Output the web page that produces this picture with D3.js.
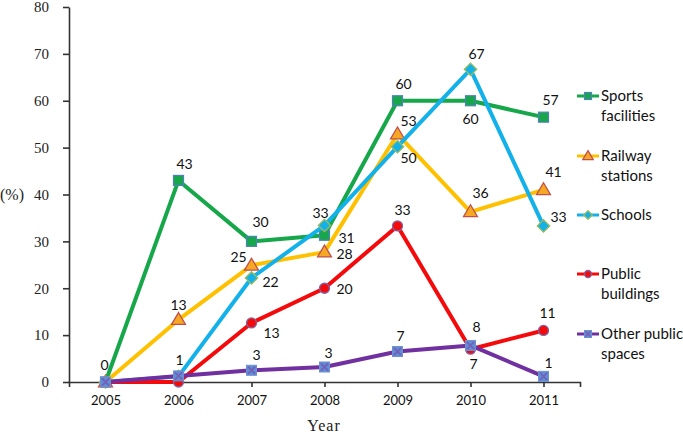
<!DOCTYPE html>
<html>
<head>
<meta charset="utf-8">
<script src="https://cdn.jsdelivr.net/npm/d3@7"></script>
<style>
  body { margin: 0; background: #fff; }
  svg { display: block; }
</style>
</head>
<body>
<script>
var years = ["2005", "2006", "2007", "2008", "2009", "2010", "2011"];
var yTicks = [0, 10, 20, 30, 40, 50, 60, 70, 80];

var seriesNames = ["Sports facilities", "Railway stations", "Schools", "Public buildings", "Other public spaces"];

var sports   = [0, 43, 30, 31.3, 60, 60, 56.5];
var railway  = [0, 13.3, 24.9, 27.7, 52.9, 36.3, 41];
var schools  = [0, 1.2, 22.2, 33.4, 50.2, 66.7, 33.3];
var publicB  = [0, 0, 12.6, 20, 33.3, 7, 11];
var other    = [0, 1.3, 2.5, 3.2, 6.5, 7.8, 1.2];

// printed labels (null = no label)
var sportsLabels  = [null, "43", "30", "31", "60", "60", "57"];
var railwayLabels = [null, "13", "25", "28", "53", "36", "41"];
var schoolsLabels = [null, null, "22", "33", "50", "67", "33"];
var publicLabels  = [null, null, "13", "20", "33", "7", "11"];
var otherLabels   = ["0", "1", "3", "3", "7", "8", "1"];

// label nudges relative to the marker [dx, dy]
var sportsNudge  = [[0,0],[6,-16],[9,-19],[22,3],[6,-17],[0,18],[7,-17]];
var railwayNudge = [[0,0],[0,-15],[-13,-8],[20,2],[11,-13],[10,-19],[10,-18]];
var schoolsNudge = [[0,0],[0,0],[19,4],[-4,-12],[11,11],[6,-15],[15,-9]];
var publicNudge  = [[0,0],[0,0],[20,10],[20,1],[5,-16],[3,15],[4,-17]];
var otherNudge   = [[-1,-17],[1,-16],[5,-15],[4,-14],[3,-15],[6,-18],[5,-13]];

var W = 683, H = 435;

var svg = d3.select("body").append("svg")
    .attr("width", W)
    .attr("height", H);

var x = d3.scalePoint()
    .domain(years)
    .range([69, 580])
    .padding(0.5);

var y = d3.scaleLinear()
    .domain([0, 80])
    .range([382, 7]);

var axisColor = "#333";

// y axis
var yAxis = svg.append("g")
    .attr("transform", "translate(69,0)")
    .call(d3.axisLeft(y).tickValues(yTicks).tickSize(6).tickSizeOuter(0).tickPadding(14));
yAxis.selectAll("path, line").attr("stroke", axisColor).attr("stroke-width", 1.6);
yAxis.selectAll("text")
    .attr("fill", "#222")
    .style("font-family", "'Liberation Serif', serif")
    .style("font-size", "15px");

// x axis
var xAxis = svg.append("g")
    .attr("transform", "translate(0,382)")
    .call(d3.axisBottom(x).tickSize(5).tickSizeOuter(5).tickPadding(9));
xAxis.selectAll("path, line").attr("stroke", axisColor).attr("stroke-width", 1.6);
xAxis.selectAll("text")
    .attr("fill", "#111")
    .style("font-family", "Lato, sans-serif")
    .style("font-size", "13px");

svg.append("text")
    .attr("x", 0)
    .attr("y", y(40))
    .attr("dy", "0.35em")
    .style("font-family", "'Liberation Serif', serif")
    .style("font-size", "16px")
    .attr("fill", "#222")
    .text("(%)");

svg.append("text")
    .attr("x", 324)
    .attr("y", 425)
    .attr("dy", "0.35em")
    .attr("text-anchor", "middle")
    .style("font-family", "'Liberation Serif', serif")
    .style("font-size", "16px")
    .style("letter-spacing", "1px")
    .attr("fill", "#222")
    .text("Year");

var series = [
  { name: seriesNames[0], values: sports,  labels: sportsLabels,  nudge: sportsNudge,
    line: "#16A74A", fill: "#16A74A", edge: "#4F81BD", shape: "square" },
  { name: seriesNames[1], values: railway, labels: railwayLabels, nudge: railwayNudge,
    line: "#FFC000", fill: "#F7A823", edge: "#C0504D", shape: "triangle" },
  { name: seriesNames[2], values: schools, labels: schoolsLabels, nudge: schoolsNudge,
    line: "#13B1EA", fill: "#13B1EA", edge: "#9BBB59", shape: "diamond" },
  { name: seriesNames[3], values: publicB, labels: publicLabels,  nudge: publicNudge,
    line: "#F40A0A", fill: "#F40A0A", edge: "#8064A2", shape: "circle" },
  { name: seriesNames[4], values: other,   labels: otherLabels,   nudge: otherNudge,
    line: "#7030A0", fill: "#5B8FD6", edge: "#7A5BB5", shape: "xsquare" }
];

function drawMarker(g, shape, s, fill, edge) {
  if (shape === "square") {
    g.append("rect").attr("x", -s/2).attr("y", -s/2).attr("width", s).attr("height", s)
      .attr("fill", fill).attr("stroke", edge).attr("stroke-width", 1.2);
  } else if (shape === "triangle") {
    var h = s * 0.95;
    g.append("path").attr("d", "M0," + (-h*0.62) + "L" + (s*0.58) + "," + (h*0.42) + "L" + (-s*0.58) + "," + (h*0.42) + "Z")
      .attr("fill", fill).attr("stroke", edge).attr("stroke-width", 1.3);
  } else if (shape === "diamond") {
    var r = s * 0.62;
    g.append("path").attr("d", "M0," + (-r) + "L" + r + ",0L0," + r + "L" + (-r) + ",0Z")
      .attr("fill", fill).attr("stroke", edge).attr("stroke-width", 1.3);
  } else if (shape === "circle") {
    g.append("circle").attr("r", s/2).attr("fill", fill).attr("stroke", edge).attr("stroke-width", 1.3);
  } else if (shape === "xsquare") {
    g.append("rect").attr("x", -s/2).attr("y", -s/2).attr("width", s).attr("height", s)
      .attr("fill", fill).attr("stroke", "#6F8FD0").attr("stroke-width", 1);
    var k = s * 0.36;
    g.append("path").attr("d", "M" + (-k) + "," + (-k) + "L" + k + "," + k + "M" + k + "," + (-k) + "L" + (-k) + "," + k)
      .attr("stroke", edge).attr("stroke-width", 1.6).attr("fill", "none");
  }
}

var line = d3.line()
    .x(function(d, i) { return x(years[i]); })
    .y(function(d) { return y(d); });

series.forEach(function(s) {
  var g = svg.append("g");
  g.append("path")
    .datum(s.values)
    .attr("d", line)
    .attr("fill", "none")
    .attr("stroke", s.line)
    .attr("stroke-width", 4)
    .attr("stroke-linejoin", "round");

  s.values.forEach(function(v, i) {
    var m = g.append("g").attr("transform", "translate(" + x(years[i]) + "," + y(v) + ")");
    drawMarker(m, s.shape, s.shape === "triangle" ? 12 : 10, s.fill, s.edge);
  });
});

// data labels on top
series.forEach(function(s) {
  s.labels.forEach(function(lab, i) {
    if (lab === null) return;
    svg.append("text")
      .attr("x", x(years[i]) + s.nudge[i][0])
      .attr("y", y(s.values[i]) + s.nudge[i][1])
      .attr("dy", "0.35em")
      .attr("text-anchor", "middle")
      .style("font-family", "Lato, sans-serif")
      .style("font-size", "14px")
      .attr("fill", "#111")
      .text(lab);
  });
});

// legend
var legendY = [96, 156, 215, 274, 334];
series.forEach(function(s, i) {
  var g = svg.append("g").attr("transform", "translate(588," + legendY[i] + ")");
  g.append("line").attr("x1", -11).attr("x2", 11).attr("stroke", s.line).attr("stroke-width", 3);
  drawMarker(g, s.shape, s.shape === "triangle" ? 9 : 7, s.fill, s.edge);
  var words = s.name.split(" ");
  var lines = s.name === "Other public spaces" ? ["Other public", "spaces"] : [words[0], words.slice(1).join(" ")];
  var t = g.append("text")
    .attr("x", 13)
    .style("font-family", "Lato, sans-serif")
    .style("font-size", "15px")
    .attr("fill", "#111");
  lines.forEach(function(l, j) {
    if (!l) return;
    t.append("tspan").attr("x", 13).attr("y", j * 19.5).attr("dy", "0.35em").text(l);
  });
});
</script>
</body>
</html>
